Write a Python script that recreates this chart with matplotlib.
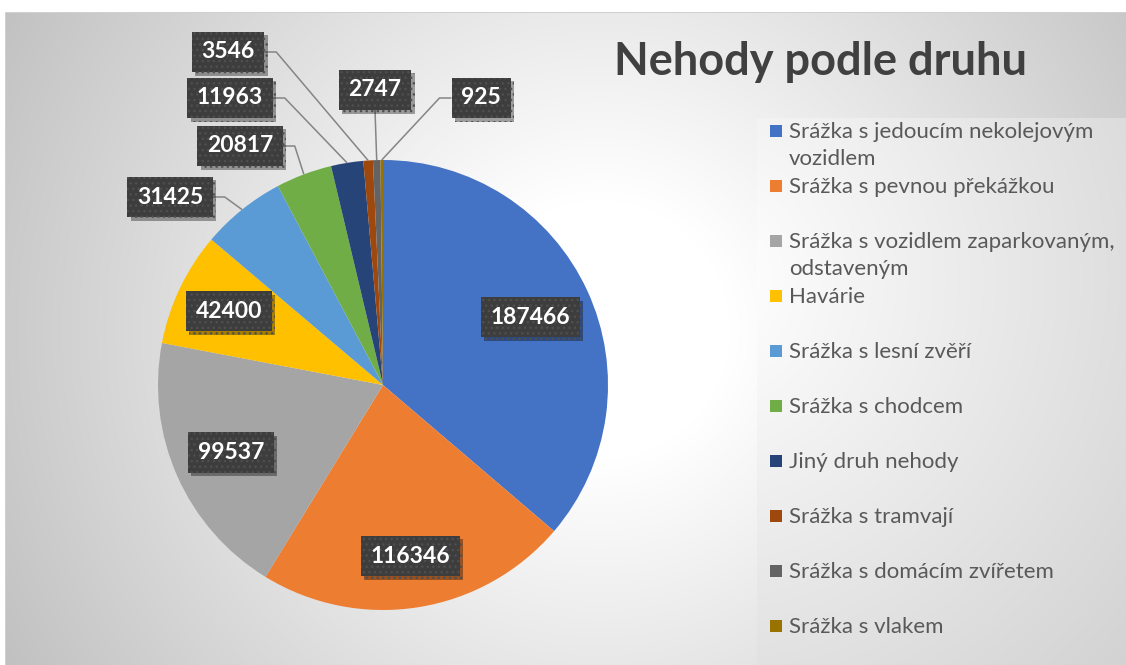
import numpy as np
import matplotlib
matplotlib.use("Agg")
import matplotlib.pyplot as plt
from matplotlib.patches import Rectangle
import matplotlib.patheffects as pe

# ---------------- data ----------------
categories = [
    "Srážka s jedoucím nekolejovým\nvozidlem",
    "Srážka s pevnou překážkou",
    "Srážka s vozidlem zaparkovaným,\nodstaveným",
    "Havárie",
    "Srážka s lesní zvěří",
    "Srážka s chodcem",
    "Jiný druh nehody",
    "Srážka s tramvají",
    "Srážka s domácím zvířetem",
    "Srážka s vlakem",
]
values = [187466, 116346, 99537, 42400, 31425, 20817, 11963, 3546, 2747, 925]
colors = ["#4472C4", "#ED7D31", "#A5A5A5", "#FFC000", "#5B9BD5",
          "#70AD47", "#264478", "#9E480E", "#636363", "#997300"]
title = "Nehody podle druhu"

# ---------------- layout ----------------
W, H = 1126, 665
CX, CY, R = 383, 385, 225          # pie centre / radius in pixels
FONT = "Lato"

fig = plt.figure(figsize=(W / 100, H / 100), dpi=100)

# background gradient
bg = fig.add_axes([0, 0, 1, 1])
yy, xx = np.mgrid[0:H, 0:W] + 0.5
d = np.hypot(xx - 600, yy - 330)
t = np.clip((d - 130) / 550, 0, 1)
c = 255 - 62 * t
mask = (xx >= 757) & (yy >= 118)
d2 = np.hypot(xx - 700, yy - 280)
t2 = np.clip((d2 - 60) / 520, 0, 1)
c2 = 252 - 42 * t2
c = np.where(mask, c2, c)
c = np.where((yy < 12) | (xx < 5), 255, c)
c = np.where(((yy >= 12) & (yy < 13.2) & (xx >= 5)) | ((xx >= 5) & (xx < 6.2) & (yy >= 12)), 208, c)
img = np.dstack([c, c, c]) / 255.0
bg.imshow(img, extent=[0, W, H, 0], interpolation="bilinear", aspect="auto")
bg.set_xlim(0, W)
bg.set_ylim(H, 0)
bg.axis("off")

# pie axes covering the figure, 1 data unit = R pixels
ax = fig.add_axes([0, 0, 1, 1])
ax.set_facecolor("none")
wedges, _ = ax.pie(values, colors=colors, startangle=90, counterclock=False,
                   radius=1, center=(0, 0), wedgeprops=dict(linewidth=0))
ax.set_xlim(-CX / R, (W - CX) / R)
ax.set_ylim(-(H - CY) / R, CY / R)
ax.axis("off")


def px2d(x, y):
    return (x - CX) / R, (CY - y) / R


plt.rcParams["hatch.linewidth"] = 1.0
box_kw = dict(boxstyle="square,pad=0.42", facecolor="#3d3d3d",
              edgecolor="#4f4f4f", linewidth=0, hatch="...")
shadow = [pe.SimplePatchShadow(offset=(2.5, -2.5), shadow_rgbFace="k", alpha=0.35),
          pe.Normal()]

mids = [np.deg2rad((w.theta1 + w.theta2) / 2) for w in wedges]

LBL_FS = 16.5
# inside labels
inside_r = [0.72, 0.77, 0.74, 0.76]
for i in range(4):
    x, y = inside_r[i] * np.cos(mids[i]), inside_r[i] * np.sin(mids[i])
    tx = ax.text(x, y, str(values[i]), ha="center", va="center", color="white",
                 fontsize=LBL_FS, fontweight="bold", family=FONT, bbox=box_kw, zorder=5)
    tx.get_bbox_patch().set_path_effects(shadow)

# outside labels: box centre (px) and connection side
outside = {
    4: ((170, 197), "right"),
    5: ((240, 146), "right"),
    6: ((230, 98), "right"),
    7: ((228, 52), "right"),
    8: ((375, 90), "bottom"),
    9: ((481, 98), "left"),
}
out_texts = {}
for i, ((bx, by), side) in outside.items():
    x, y = px2d(bx, by)
    tx = ax.text(x, y, str(values[i]), ha="center", va="center", color="white",
                 fontsize=LBL_FS, fontweight="bold", family=FONT, bbox=box_kw, zorder=5)
    tx.get_bbox_patch().set_path_effects(shadow)
    out_texts[i] = (tx, side)

fig.canvas.draw()
renderer = fig.canvas.get_renderer()
inv = ax.transData.inverted()
elbow = 12 / R
for i, (tx, side) in out_texts.items():
    bb = tx.get_bbox_patch().get_window_extent(renderer)
    (x0, y0), (x1, y1) = inv.transform([[bb.x0, bb.y0], [bb.x1, bb.y1]])
    ex, ey = np.cos(mids[i]), np.sin(mids[i])
    ym = (y0 + y1) / 2
    if side == "right":
        xs = [x1, x1 + elbow, ex]
        ys = [ym, ym, ey]
    elif side == "left":
        xs = [x0, x0 - elbow, ex]
        ys = [ym, ym, ey]
    else:
        xm = (x0 + x1) / 2
        xs = [xm, ex]
        ys = [y0, ey]
    ax.plot(xs, ys, color="#858585", lw=1.1, zorder=4, solid_capstyle="butt")

# title
fig.text(821 / W, 1 - 62 / H, title, ha="center", va="center", fontsize=32.5,
         fontweight="bold", color="#404040", family=FONT)

# legend
for i, (name, col) in enumerate(zip(categories, colors)):
    ypx = 131 + 55 * i
    fig.patches.append(Rectangle((770 / W, 1 - (ypx + 6) / H), 12 / W, 12 / H,
                                 transform=fig.transFigure, facecolor=col,
                                 edgecolor="none"))
    for j, line in enumerate(name.split("\n")):
        fig.text(789 / W, 1 - (ypx + 27 * j + 7) / H, line, ha="left", va="baseline",
                 fontsize=16, color="#595959", family=FONT)

fig.savefig("out.png", dpi=100)
